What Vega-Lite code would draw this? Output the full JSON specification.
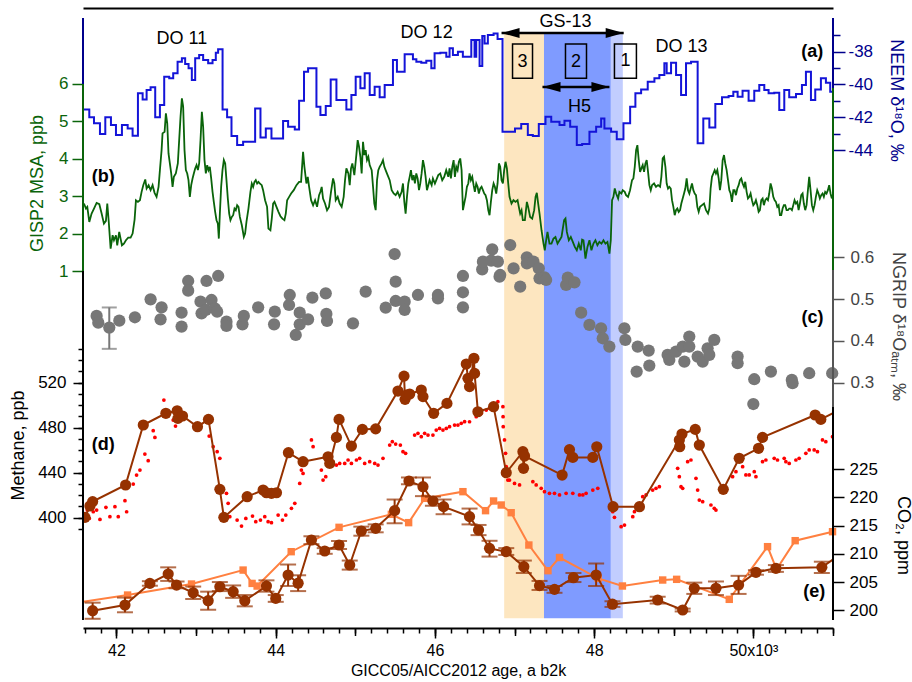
{
"$schema":"https://vega.github.io/schema/vega-lite/v6.json",
"width":750,"height":620,"autosize":"none",
"padding":{"left":83,"top":8,"right":79,"bottom":54},
"background":"white",
"config":{"view":{"stroke":null},"axis":{"labelFont":"Liberation Sans","titleFont":"Liberation Sans","titleFontWeight":"normal","grid":false,"domain":false,"labelOverlap":false,"zindex":1},"text":{"font":"Liberation Sans"}},
"resolve":{"scale":{"x":"independent","y":"independent"},"axis":{"x":"independent","y":"independent"}},
"datasets":{
"bands":[{"s":46870,"e":47370,"k":"a"},{"s":47370,"e":48210,"k":"b"},{"s":48210,"e":48360,"k":"c"}],
"neem":[{"t":41580,"v":-41.52},{"t":41659,"v":-42.00},{"t":41718,"v":-42.37},{"t":41793,"v":-43.02},{"t":41860,"v":-42.00},{"t":41931,"v":-42.48},{"t":41994,"v":-43.09},{"t":42069,"v":-42.48},{"t":42141,"v":-42.68},{"t":42203,"v":-43.13},{"t":42270,"v":-40.54},{"t":42329,"v":-40.91},{"t":42379,"v":-40.34},{"t":42429,"v":-40.17},{"t":42487,"v":-42.00},{"t":42546,"v":-41.25},{"t":42600,"v":-39.53},{"t":42663,"v":-39.62},{"t":42713,"v":-39.32},{"t":42768,"v":-38.61},{"t":42822,"v":-38.40},{"t":42863,"v":-38.75},{"t":42906,"v":-39.01},{"t":42947,"v":-39.73},{"t":42989,"v":-38.40},{"t":43039,"v":-38.20},{"t":43089,"v":-38.51},{"t":43152,"v":-38.71},{"t":43207,"v":-38.51},{"t":43248,"v":-38.06},{"t":43277,"v":-37.85},{"t":43333,"v":-41.52},{"t":43390,"v":-42.00},{"t":43445,"v":-43.15},{"t":43516,"v":-43.70},{"t":43591,"v":-43.49},{"t":43742,"v":-41.46},{"t":43809,"v":-43.23},{"t":43876,"v":-42.68},{"t":43947,"v":-43.29},{"t":44093,"v":-42.23},{"t":44156,"v":-42.58},{"t":44240,"v":-42.74},{"t":44294,"v":-40.99},{"t":44356,"v":-39.22},{"t":44407,"v":-39.01},{"t":44512,"v":-41.36},{"t":44562,"v":-41.86},{"t":44629,"v":-41.32},{"t":44691,"v":-39.69},{"t":44763,"v":-40.95},{"t":44888,"v":-41.52},{"t":44951,"v":-40.64},{"t":45005,"v":-39.53},{"t":45064,"v":-40.23},{"t":45118,"v":-39.32},{"t":45181,"v":-40.64},{"t":45243,"v":-40.14},{"t":45306,"v":-40.78},{"t":45369,"v":-40.03},{"t":45473,"v":-38.51},{"t":45523,"v":-39.22},{"t":45620,"v":-38.16},{"t":45724,"v":-38.46},{"t":45767,"v":-38.61},{"t":45829,"v":-38.67},{"t":45892,"v":-38.55},{"t":45955,"v":-39.01},{"t":45996,"v":-38.10},{"t":46068,"v":-38.06},{"t":46143,"v":-38.31},{"t":46184,"v":-37.79},{"t":46226,"v":-38.20},{"t":46289,"v":-38.00},{"t":46351,"v":-38.31},{"t":46457,"v":-37.29},{"t":46498,"v":-38.31},{"t":46519,"v":-37.29},{"t":46561,"v":-38.87},{"t":46595,"v":-37.04},{"t":46624,"v":-37.49},{"t":46665,"v":-36.98},{"t":46737,"v":-36.89},{"t":46787,"v":-37.22},{"t":46849,"v":-42.88},{"t":47006,"v":-42.68},{"t":47084,"v":-42.41},{"t":47167,"v":-43.09},{"t":47230,"v":-43.15},{"t":47305,"v":-42.41},{"t":47389,"v":-41.97},{"t":47461,"v":-42.27},{"t":47565,"v":-42.48},{"t":47627,"v":-42.21},{"t":47699,"v":-42.58},{"t":47782,"v":-43.70},{"t":47849,"v":-43.63},{"t":47941,"v":-42.88},{"t":48025,"v":-42.58},{"t":48088,"v":-42.07},{"t":48129,"v":-42.68},{"t":48213,"v":-42.88},{"t":48284,"v":-43.35},{"t":48368,"v":-42.37},{"t":48452,"v":-41.36},{"t":48518,"v":-40.54},{"t":48590,"v":-40.30},{"t":48673,"v":-39.83},{"t":48757,"v":-39.62},{"t":48819,"v":-39.42},{"t":48882,"v":-38.71},{"t":48911,"v":-39.32},{"t":48966,"v":-38.67},{"t":49029,"v":-39.42},{"t":49092,"v":-40.64},{"t":49154,"v":-38.71},{"t":49217,"v":-38.61},{"t":49300,"v":-43.59},{"t":49371,"v":-42.07},{"t":49447,"v":-42.62},{"t":49522,"v":-41.19},{"t":49606,"v":-40.78},{"t":49689,"v":-40.70},{"t":49748,"v":-40.44},{"t":49802,"v":-40.75},{"t":49864,"v":-40.38},{"t":49940,"v":-40.99},{"t":50011,"v":-40.38},{"t":50074,"v":-40.03},{"t":50137,"v":-40.34},{"t":50191,"v":-40.54},{"t":50262,"v":-40.50},{"t":50325,"v":-41.56},{"t":50388,"v":-40.34},{"t":50450,"v":-40.78},{"t":50535,"v":-40.58},{"t":50610,"v":-40.03},{"t":50660,"v":-39.22},{"t":50723,"v":-40.95},{"t":50777,"v":-40.30},{"t":50848,"v":-39.62},{"t":50911,"v":-39.89},{"t":50965,"v":-40.44},{"t":51000,"v":-40.44}],
"msa":[{"t":41592,"v":2.804},{"t":41617,"v":2.670},{"t":41634,"v":2.715},{"t":41659,"v":2.313},{"t":41688,"v":2.536},{"t":41718,"v":2.670},{"t":41751,"v":2.822},{"t":41785,"v":2.786},{"t":41814,"v":2.536},{"t":41843,"v":2.268},{"t":41868,"v":2.340},{"t":41885,"v":2.804},{"t":41902,"v":2.358},{"t":41927,"v":1.599},{"t":41952,"v":1.956},{"t":41969,"v":1.822},{"t":41994,"v":1.956},{"t":42010,"v":1.688},{"t":42035,"v":2.045},{"t":42052,"v":1.867},{"t":42069,"v":1.688},{"t":42094,"v":1.733},{"t":42119,"v":1.822},{"t":42148,"v":1.894},{"t":42178,"v":1.894},{"t":42203,"v":2.001},{"t":42228,"v":2.375},{"t":42245,"v":2.893},{"t":42270,"v":2.849},{"t":42295,"v":2.893},{"t":42316,"v":3.117},{"t":42337,"v":3.295},{"t":42362,"v":3.447},{"t":42379,"v":3.206},{"t":42404,"v":3.295},{"t":42429,"v":3.161},{"t":42454,"v":3.295},{"t":42479,"v":3.090},{"t":42504,"v":2.983},{"t":42529,"v":3.250},{"t":42546,"v":3.697},{"t":42567,"v":4.232},{"t":42579,"v":4.679},{"t":42605,"v":4.723},{"t":42621,"v":5.214},{"t":42638,"v":4.947},{"t":42654,"v":4.143},{"t":42671,"v":3.875},{"t":42688,"v":3.608},{"t":42705,"v":3.250},{"t":42721,"v":3.518},{"t":42746,"v":3.608},{"t":42771,"v":3.875},{"t":42788,"v":4.500},{"t":42805,"v":5.125},{"t":42822,"v":5.616},{"t":42838,"v":5.393},{"t":42855,"v":4.232},{"t":42872,"v":3.697},{"t":42889,"v":3.608},{"t":42905,"v":3.429},{"t":42922,"v":2.983},{"t":42939,"v":3.295},{"t":42956,"v":3.474},{"t":42972,"v":3.608},{"t":42989,"v":3.742},{"t":43006,"v":3.831},{"t":43023,"v":3.697},{"t":43039,"v":3.875},{"t":43056,"v":4.500},{"t":43073,"v":5.259},{"t":43089,"v":4.857},{"t":43106,"v":3.965},{"t":43123,"v":3.608},{"t":43140,"v":3.831},{"t":43156,"v":3.697},{"t":43173,"v":3.786},{"t":43190,"v":3.474},{"t":43207,"v":3.117},{"t":43223,"v":2.849},{"t":43240,"v":2.581},{"t":43257,"v":2.358},{"t":43274,"v":2.268},{"t":43286,"v":1.867},{"t":43299,"v":2.536},{"t":43315,"v":3.250},{"t":43332,"v":3.697},{"t":43349,"v":3.965},{"t":43366,"v":3.875},{"t":43382,"v":3.429},{"t":43399,"v":2.938},{"t":43416,"v":2.536},{"t":43432,"v":2.358},{"t":43449,"v":2.447},{"t":43466,"v":2.492},{"t":43483,"v":2.670},{"t":43499,"v":2.626},{"t":43516,"v":2.759},{"t":43533,"v":2.715},{"t":43550,"v":2.447},{"t":43575,"v":2.224},{"t":43600,"v":1.911},{"t":43616,"v":2.001},{"t":43633,"v":2.313},{"t":43658,"v":2.670},{"t":43683,"v":3.117},{"t":43700,"v":3.340},{"t":43717,"v":3.250},{"t":43734,"v":3.384},{"t":43750,"v":3.429},{"t":43767,"v":3.340},{"t":43784,"v":3.384},{"t":43800,"v":3.340},{"t":43825,"v":3.295},{"t":43842,"v":3.161},{"t":43867,"v":2.893},{"t":43892,"v":2.715},{"t":43909,"v":2.135},{"t":43934,"v":2.090},{"t":43951,"v":2.402},{"t":43968,"v":2.804},{"t":43985,"v":2.849},{"t":44010,"v":2.715},{"t":44035,"v":2.581},{"t":44060,"v":2.465},{"t":44085,"v":2.402},{"t":44110,"v":2.358},{"t":44127,"v":2.536},{"t":44144,"v":2.893},{"t":44169,"v":2.983},{"t":44194,"v":3.072},{"t":44227,"v":3.161},{"t":44261,"v":3.295},{"t":44294,"v":3.384},{"t":44319,"v":3.384},{"t":44344,"v":4.188},{"t":44361,"v":3.786},{"t":44386,"v":3.340},{"t":44403,"v":3.518},{"t":44420,"v":3.250},{"t":44445,"v":2.893},{"t":44470,"v":2.759},{"t":44495,"v":2.893},{"t":44520,"v":2.715},{"t":44545,"v":3.027},{"t":44562,"v":3.117},{"t":44578,"v":3.250},{"t":44595,"v":2.938},{"t":44620,"v":2.804},{"t":44645,"v":2.626},{"t":44670,"v":2.715},{"t":44695,"v":3.117},{"t":44721,"v":3.474},{"t":44737,"v":3.340},{"t":44754,"v":2.893},{"t":44779,"v":2.983},{"t":44804,"v":2.804},{"t":44829,"v":2.715},{"t":44854,"v":2.983},{"t":44871,"v":3.429},{"t":44888,"v":3.742},{"t":44913,"v":3.608},{"t":44930,"v":3.295},{"t":44946,"v":3.742},{"t":44963,"v":3.876},{"t":44988,"v":3.563},{"t":45013,"v":4.099},{"t":45030,"v":4.500},{"t":45047,"v":4.322},{"t":45064,"v":4.054},{"t":45080,"v":3.608},{"t":45097,"v":4.456},{"t":45114,"v":4.099},{"t":45130,"v":4.232},{"t":45147,"v":3.965},{"t":45164,"v":4.054},{"t":45181,"v":3.831},{"t":45206,"v":3.697},{"t":45223,"v":3.250},{"t":45239,"v":2.804},{"t":45256,"v":2.626},{"t":45273,"v":3.429},{"t":45289,"v":3.697},{"t":45306,"v":3.786},{"t":45331,"v":3.876},{"t":45348,"v":3.965},{"t":45365,"v":3.786},{"t":45381,"v":3.697},{"t":45406,"v":3.563},{"t":45432,"v":3.429},{"t":45457,"v":3.161},{"t":45482,"v":3.072},{"t":45507,"v":3.027},{"t":45532,"v":3.117},{"t":45557,"v":2.983},{"t":45582,"v":3.117},{"t":45599,"v":3.340},{"t":45616,"v":2.849},{"t":45632,"v":2.536},{"t":45649,"v":2.983},{"t":45666,"v":3.340},{"t":45683,"v":3.518},{"t":45699,"v":3.697},{"t":45716,"v":3.429},{"t":45733,"v":3.563},{"t":45749,"v":3.340},{"t":45766,"v":3.608},{"t":45783,"v":3.474},{"t":45800,"v":3.161},{"t":45816,"v":3.340},{"t":45833,"v":3.608},{"t":45850,"v":3.965},{"t":45867,"v":3.786},{"t":45883,"v":3.518},{"t":45900,"v":3.161},{"t":45917,"v":3.295},{"t":45933,"v":3.429},{"t":45959,"v":3.295},{"t":45975,"v":3.474},{"t":46000,"v":3.340},{"t":46017,"v":3.429},{"t":46042,"v":3.563},{"t":46067,"v":3.608},{"t":46092,"v":3.429},{"t":46117,"v":3.518},{"t":46142,"v":3.697},{"t":46168,"v":3.518},{"t":46184,"v":3.742},{"t":46201,"v":3.474},{"t":46218,"v":3.786},{"t":46235,"v":3.965},{"t":46251,"v":3.518},{"t":46268,"v":3.786},{"t":46285,"v":3.697},{"t":46301,"v":3.920},{"t":46318,"v":4.009},{"t":46335,"v":3.697},{"t":46352,"v":2.626},{"t":46368,"v":2.804},{"t":46385,"v":2.983},{"t":46402,"v":3.250},{"t":46419,"v":3.340},{"t":46435,"v":3.608},{"t":46452,"v":3.429},{"t":46469,"v":3.518},{"t":46486,"v":3.295},{"t":46502,"v":3.117},{"t":46519,"v":3.340},{"t":46536,"v":3.250},{"t":46552,"v":3.072},{"t":46569,"v":3.206},{"t":46586,"v":3.250},{"t":46603,"v":3.161},{"t":46620,"v":3.072},{"t":46636,"v":3.027},{"t":46653,"v":2.893},{"t":46670,"v":2.626},{"t":46686,"v":2.492},{"t":46703,"v":2.849},{"t":46720,"v":3.161},{"t":46737,"v":3.340},{"t":46753,"v":3.250},{"t":46770,"v":3.072},{"t":46787,"v":3.340},{"t":46804,"v":3.876},{"t":46820,"v":3.786},{"t":46837,"v":3.429},{"t":46854,"v":3.340},{"t":46870,"v":3.697},{"t":46887,"v":3.920},{"t":46904,"v":3.742},{"t":46921,"v":3.340},{"t":46937,"v":2.983},{"t":46962,"v":2.804},{"t":46987,"v":2.893},{"t":47012,"v":2.849},{"t":47038,"v":2.893},{"t":47054,"v":2.715},{"t":47071,"v":2.536},{"t":47088,"v":2.626},{"t":47104,"v":2.358},{"t":47130,"v":2.358},{"t":47155,"v":2.849},{"t":47171,"v":2.715},{"t":47196,"v":2.447},{"t":47222,"v":2.402},{"t":47247,"v":2.626},{"t":47264,"v":2.983},{"t":47280,"v":3.090},{"t":47297,"v":2.804},{"t":47314,"v":2.536},{"t":47339,"v":2.090},{"t":47364,"v":1.733},{"t":47380,"v":1.554},{"t":47397,"v":1.822},{"t":47414,"v":2.045},{"t":47439,"v":1.733},{"t":47464,"v":1.733},{"t":47489,"v":1.867},{"t":47514,"v":1.911},{"t":47540,"v":1.733},{"t":47565,"v":1.822},{"t":47590,"v":1.911},{"t":47623,"v":2.358},{"t":47640,"v":2.402},{"t":47657,"v":2.045},{"t":47682,"v":1.822},{"t":47707,"v":1.911},{"t":47732,"v":1.778},{"t":47757,"v":1.644},{"t":47782,"v":1.554},{"t":47807,"v":1.733},{"t":47832,"v":1.554},{"t":47849,"v":1.840},{"t":47866,"v":1.822},{"t":47891,"v":1.331},{"t":47916,"v":1.644},{"t":47941,"v":1.822},{"t":47966,"v":1.554},{"t":47991,"v":1.733},{"t":48016,"v":1.822},{"t":48041,"v":1.688},{"t":48066,"v":1.778},{"t":48092,"v":1.733},{"t":48117,"v":1.822},{"t":48142,"v":1.733},{"t":48167,"v":1.778},{"t":48192,"v":1.465},{"t":48209,"v":1.822},{"t":48225,"v":2.894},{"t":48242,"v":2.983},{"t":48259,"v":3.206},{"t":48276,"v":3.072},{"t":48301,"v":2.938},{"t":48317,"v":3.117},{"t":48342,"v":3.072},{"t":48359,"v":3.161},{"t":48384,"v":3.117},{"t":48401,"v":3.028},{"t":48426,"v":2.983},{"t":48451,"v":3.161},{"t":48476,"v":3.429},{"t":48493,"v":3.474},{"t":48510,"v":3.786},{"t":48527,"v":4.233},{"t":48543,"v":4.366},{"t":48560,"v":3.965},{"t":48577,"v":3.652},{"t":48593,"v":3.742},{"t":48610,"v":3.831},{"t":48627,"v":3.652},{"t":48644,"v":3.875},{"t":48660,"v":3.965},{"t":48677,"v":3.652},{"t":48694,"v":3.295},{"t":48711,"v":3.161},{"t":48727,"v":3.295},{"t":48752,"v":3.340},{"t":48777,"v":3.251},{"t":48803,"v":3.295},{"t":48828,"v":3.251},{"t":48844,"v":3.518},{"t":48861,"v":4.010},{"t":48878,"v":4.054},{"t":48895,"v":3.786},{"t":48911,"v":3.340},{"t":48928,"v":3.206},{"t":48945,"v":3.251},{"t":48962,"v":3.206},{"t":48978,"v":2.894},{"t":48995,"v":2.715},{"t":49012,"v":2.492},{"t":49028,"v":2.626},{"t":49045,"v":2.670},{"t":49062,"v":2.581},{"t":49079,"v":2.626},{"t":49095,"v":2.804},{"t":49112,"v":2.938},{"t":49129,"v":3.072},{"t":49145,"v":3.206},{"t":49162,"v":3.474},{"t":49179,"v":3.161},{"t":49196,"v":3.072},{"t":49212,"v":3.206},{"t":49229,"v":3.340},{"t":49246,"v":3.161},{"t":49263,"v":3.072},{"t":49279,"v":3.028},{"t":49296,"v":2.715},{"t":49313,"v":2.581},{"t":49330,"v":2.715},{"t":49355,"v":2.760},{"t":49380,"v":2.804},{"t":49405,"v":2.626},{"t":49430,"v":2.536},{"t":49447,"v":2.670},{"t":49463,"v":3.206},{"t":49480,"v":3.518},{"t":49497,"v":3.608},{"t":49514,"v":3.697},{"t":49530,"v":3.608},{"t":49547,"v":3.697},{"t":49564,"v":3.474},{"t":49580,"v":3.161},{"t":49597,"v":3.429},{"t":49614,"v":3.965},{"t":49631,"v":4.099},{"t":49647,"v":3.875},{"t":49664,"v":3.697},{"t":49681,"v":3.429},{"t":49698,"v":3.161},{"t":49714,"v":3.072},{"t":49731,"v":2.849},{"t":49748,"v":3.161},{"t":49764,"v":3.161},{"t":49781,"v":3.028},{"t":49798,"v":3.206},{"t":49815,"v":3.295},{"t":49831,"v":3.429},{"t":49848,"v":3.474},{"t":49865,"v":3.340},{"t":49882,"v":3.251},{"t":49898,"v":3.385},{"t":49915,"v":3.117},{"t":49932,"v":2.938},{"t":49949,"v":2.983},{"t":49965,"v":3.072},{"t":49982,"v":2.894},{"t":49999,"v":2.760},{"t":50015,"v":2.804},{"t":50032,"v":2.894},{"t":50049,"v":2.760},{"t":50066,"v":2.581},{"t":50082,"v":2.626},{"t":50099,"v":2.894},{"t":50116,"v":2.938},{"t":50132,"v":2.760},{"t":50149,"v":2.894},{"t":50166,"v":2.938},{"t":50183,"v":2.894},{"t":50199,"v":3.072},{"t":50216,"v":3.340},{"t":50233,"v":3.206},{"t":50250,"v":2.983},{"t":50266,"v":2.894},{"t":50283,"v":2.849},{"t":50300,"v":2.715},{"t":50317,"v":2.760},{"t":50333,"v":2.492},{"t":50350,"v":2.492},{"t":50367,"v":2.670},{"t":50383,"v":2.760},{"t":50400,"v":2.760},{"t":50417,"v":2.626},{"t":50434,"v":2.626},{"t":50450,"v":2.670},{"t":50467,"v":2.670},{"t":50484,"v":2.626},{"t":50501,"v":2.760},{"t":50517,"v":2.894},{"t":50534,"v":2.804},{"t":50551,"v":2.849},{"t":50568,"v":2.626},{"t":50584,"v":2.804},{"t":50601,"v":3.028},{"t":50618,"v":3.072},{"t":50634,"v":2.804},{"t":50651,"v":2.626},{"t":50668,"v":2.760},{"t":50685,"v":3.161},{"t":50701,"v":3.518},{"t":50718,"v":3.161},{"t":50735,"v":2.760},{"t":50752,"v":2.626},{"t":50768,"v":2.760},{"t":50785,"v":2.983},{"t":50802,"v":3.161},{"t":50818,"v":3.072},{"t":50835,"v":2.938},{"t":50852,"v":3.028},{"t":50869,"v":3.072},{"t":50885,"v":2.983},{"t":50902,"v":3.117},{"t":50919,"v":3.072},{"t":50936,"v":3.161},{"t":50952,"v":3.295},{"t":50969,"v":3.072},{"t":50986,"v":2.938}],
"ngrip":[{"t":41751,"v":0.4597},{"t":41772,"v":0.4437},{"t":41910,"v":0.4318},{"t":42036,"v":0.4485},{"t":42232,"v":0.4565},{"t":42429,"v":0.4995},{"t":42554,"v":0.4517},{"t":42567,"v":0.4804},{"t":42818,"v":0.4676},{"t":42818,"v":0.4342},{"t":42901,"v":0.5434},{"t":42901,"v":0.5202},{"t":43056,"v":0.4939},{"t":43069,"v":0.4660},{"t":43123,"v":0.4740},{"t":43131,"v":0.5434},{"t":43194,"v":0.4979},{"t":43236,"v":0.4780},{"t":43265,"v":0.4700},{"t":43278,"v":0.5553},{"t":43382,"v":0.4461},{"t":43382,"v":0.4358},{"t":43583,"v":0.4397},{"t":43600,"v":0.4597},{"t":43780,"v":0.4804},{"t":43980,"v":0.4397},{"t":43989,"v":0.4700},{"t":44168,"v":0.4860},{"t":44177,"v":0.5099},{"t":44252,"v":0.4142},{"t":44302,"v":0.4676},{"t":44302,"v":0.4397},{"t":44407,"v":0.4517},{"t":44461,"v":0.5035},{"t":44629,"v":0.5139},{"t":44637,"v":0.4645},{"t":44645,"v":0.4477},{"t":44971,"v":0.4421},{"t":45130,"v":0.5179},{"t":45382,"v":0.4796},{"t":45494,"v":0.6079},{"t":45507,"v":0.5418},{"t":45507,"v":0.4955},{"t":45620,"v":0.4939},{"t":45620,"v":0.4740},{"t":45787,"v":0.5099},{"t":46038,"v":0.5099},{"t":46038,"v":0.5019},{"t":46352,"v":0.5553},{"t":46352,"v":0.5163},{"t":46352,"v":0.4804},{"t":46594,"v":0.5713},{"t":46603,"v":0.5896},{"t":46707,"v":0.5920},{"t":46720,"v":0.6191},{"t":46791,"v":0.5896},{"t":46812,"v":0.5537},{"t":46820,"v":0.5577},{"t":46946,"v":0.6294},{"t":46988,"v":0.5736},{"t":47071,"v":0.5298},{"t":47155,"v":0.6000},{"t":47155,"v":0.5856},{"t":47238,"v":0.5896},{"t":47305,"v":0.5736},{"t":47314,"v":0.5497},{"t":47376,"v":0.5521},{"t":47397,"v":0.5458},{"t":47648,"v":0.5338},{"t":47669,"v":0.5513},{"t":47753,"v":0.5402},{"t":47837,"v":0.4676},{"t":47941,"v":0.4382},{"t":48087,"v":0.4302},{"t":48108,"v":0.4063},{"t":48191,"v":0.3864},{"t":48380,"v":0.4302},{"t":48392,"v":0.4024},{"t":48534,"v":0.3267},{"t":48547,"v":0.3864},{"t":48685,"v":0.3769},{"t":48693,"v":0.3410},{"t":48923,"v":0.3665},{"t":48944,"v":0.3545},{"t":49028,"v":0.3745},{"t":49112,"v":0.3864},{"t":49133,"v":0.3506},{"t":49195,"v":0.4103},{"t":49195,"v":0.3864},{"t":49300,"v":0.3625},{"t":49363,"v":0.3506},{"t":49425,"v":0.3824},{"t":49446,"v":0.3665},{"t":49509,"v":0.4024},{"t":49802,"v":0.3625},{"t":49802,"v":0.3466},{"t":49999,"v":0.249},{"t":50011,"v":0.3083},{"t":50220,"v":0.3267},{"t":50483,"v":0.3067},{"t":50492,"v":0.2988},{"t":50701,"v":0.3227},{"t":50990,"v":0.3227}],
"ngriperr":[{"t":41910,"lo":0.381,"hi":0.480}],
"ch4":[{"t":41605,"v":400.3},{"t":41667,"v":410.4},{"t":41701,"v":414.3},{"t":42115,"v":429.1},{"t":42337,"v":482.4},{"t":42621,"v":492.8},{"t":42763,"v":495.1},{"t":42772,"v":488.3},{"t":42830,"v":490.4},{"t":43018,"v":480.9},{"t":43156,"v":487.4},{"t":43299,"v":425.2},{"t":43349,"v":400.3},{"t":43642,"v":418.7},{"t":43842,"v":424.6},{"t":43884,"v":422.2},{"t":43947,"v":421.6},{"t":44010,"v":422.2},{"t":44160,"v":457.8},{"t":44344,"v":449.8},{"t":44658,"v":454.2},{"t":44679,"v":448.3},{"t":44763,"v":471.4},{"t":44796,"v":487.4},{"t":44951,"v":463.7},{"t":45089,"v":478.5},{"t":45256,"v":479.0},{"t":45536,"v":512.6},{"t":45612,"v":525.9},{"t":45625,"v":505.2},{"t":45641,"v":509.1},{"t":45683,"v":510.0},{"t":45829,"v":513.5},{"t":45850,"v":507.6},{"t":45984,"v":492.8},{"t":46151,"v":501.6},{"t":46394,"v":536.6},{"t":46415,"v":523.9},{"t":46435,"v":516.5},{"t":46490,"v":541.7},{"t":46498,"v":528.3},{"t":46540,"v":494.2},{"t":46737,"v":498.7},{"t":46896,"v":440.0},{"t":47105,"v":458.7},{"t":47113,"v":443.9},{"t":47126,"v":454.8},{"t":47598,"v":437.9},{"t":47690,"v":460.5},{"t":47732,"v":453.6},{"t":47983,"v":453.6},{"t":48033,"v":463.1},{"t":48238,"v":409.8},{"t":48569,"v":409.8},{"t":49070,"v":469.1},{"t":49075,"v":463.1},{"t":49103,"v":474.4},{"t":49270,"v":478.5},{"t":49321,"v":464.6},{"t":49622,"v":425.2},{"t":49822,"v":452.8},{"t":50065,"v":461.7},{"t":50115,"v":471.4},{"t":50776,"v":491.3},{"t":50847,"v":487.4},{"t":51100,"v":496.7}],
"ch4hr":[{"t":41634,"v":406.8},{"t":41659,"v":399.4},{"t":41709,"v":405.3},{"t":41751,"v":406.8},{"t":41793,"v":398.5},{"t":41868,"v":409.2},{"t":41918,"v":400.9},{"t":41981,"v":409.8},{"t":42023,"v":400.9},{"t":42107,"v":415.1},{"t":42128,"v":405.3},{"t":42211,"v":429.9},{"t":42253,"v":437.9},{"t":42295,"v":442.4},{"t":42357,"v":456.6},{"t":42399,"v":450.7},{"t":42462,"v":477.4},{"t":42483,"v":471.4},{"t":42596,"v":504.6},{"t":42621,"v":495.7},{"t":42713,"v":486.8},{"t":42742,"v":481.5},{"t":43165,"v":472.6},{"t":43215,"v":463.1},{"t":43265,"v":458.7},{"t":43299,"v":452.8},{"t":43382,"v":421.7},{"t":43403,"v":412.8},{"t":43424,"v":400.9},{"t":43516,"v":397.9},{"t":43571,"v":392.6},{"t":43625,"v":399.4},{"t":43709,"v":401.5},{"t":43750,"v":396.5},{"t":43809,"v":397.9},{"t":43863,"v":400.9},{"t":43905,"v":396.5},{"t":43947,"v":395.6},{"t":44031,"v":402.4},{"t":44085,"v":397.9},{"t":44127,"v":402.4},{"t":44198,"v":408.3},{"t":44240,"v":412.8},{"t":44302,"v":430.5},{"t":44323,"v":442.4},{"t":44344,"v":439.4},{"t":44449,"v":469.1},{"t":44470,"v":463.1},{"t":44574,"v":442.4},{"t":44595,"v":433.5},{"t":44629,"v":436.5},{"t":44721,"v":449.8},{"t":44763,"v":446.8},{"t":44804,"v":448.3},{"t":44867,"v":448.3},{"t":44909,"v":451.3},{"t":44951,"v":448.3},{"t":45014,"v":451.3},{"t":45055,"v":452.8},{"t":45118,"v":448.3},{"t":45181,"v":449.8},{"t":45244,"v":448.3},{"t":45285,"v":446.8},{"t":45348,"v":452.8},{"t":45432,"v":464.6},{"t":45465,"v":467.6},{"t":45507,"v":465.5},{"t":45566,"v":464.6},{"t":45599,"v":458.7},{"t":45632,"v":457.2},{"t":45745,"v":473.5},{"t":45787,"v":475.0},{"t":45829,"v":472.0},{"t":45871,"v":475.0},{"t":45913,"v":473.5},{"t":45975,"v":473.5},{"t":46017,"v":477.9},{"t":46059,"v":479.4},{"t":46101,"v":477.9},{"t":46143,"v":479.4},{"t":46184,"v":480.9},{"t":46247,"v":482.4},{"t":46289,"v":482.4},{"t":46331,"v":483.9},{"t":46373,"v":485.4},{"t":46435,"v":485.3},{"t":46519,"v":489.8},{"t":46582,"v":492.8},{"t":46645,"v":495.7},{"t":46686,"v":497.2},{"t":46749,"v":500.2},{"t":46791,"v":503.1},{"t":46854,"v":498.7},{"t":46856,"v":489.8},{"t":46858,"v":480.9},{"t":46874,"v":469.1},{"t":46887,"v":457.2},{"t":46896,"v":445.4},{"t":46916,"v":433.5},{"t":46937,"v":433.5},{"t":47000,"v":430.5},{"t":47063,"v":429.1},{"t":47230,"v":432.0},{"t":47272,"v":429.1},{"t":47335,"v":426.1},{"t":47376,"v":423.1},{"t":47439,"v":421.7},{"t":47502,"v":421.7},{"t":47565,"v":420.2},{"t":47648,"v":421.7},{"t":47732,"v":421.7},{"t":47816,"v":420.2},{"t":47858,"v":420.2},{"t":47899,"v":421.7},{"t":47983,"v":424.6},{"t":48046,"v":426.1},{"t":48234,"v":405.4},{"t":48255,"v":400.3},{"t":48339,"v":392.0},{"t":48381,"v":393.5},{"t":48485,"v":400.9},{"t":48506,"v":405.4},{"t":48610,"v":418.7},{"t":48652,"v":420.2},{"t":48735,"v":424.6},{"t":48777,"v":426.1},{"t":48819,"v":427.6},{"t":49049,"v":443.9},{"t":49070,"v":436.5},{"t":49091,"v":427.6},{"t":49112,"v":426.1},{"t":49174,"v":449.8},{"t":49216,"v":451.3},{"t":49279,"v":435.0},{"t":49300,"v":424.6},{"t":49321,"v":415.7},{"t":49363,"v":414.2},{"t":49467,"v":411.3},{"t":49509,"v":408.3},{"t":49530,"v":406.8},{"t":49739,"v":436.5},{"t":49781,"v":440.9},{"t":49865,"v":445.4},{"t":49906,"v":438.0},{"t":49948,"v":438.0},{"t":50011,"v":440.9},{"t":50032,"v":436.5},{"t":50115,"v":449.8},{"t":50157,"v":451.3},{"t":50262,"v":452.8},{"t":50303,"v":451.3},{"t":50387,"v":452.8},{"t":50408,"v":449.8},{"t":50450,"v":448.3},{"t":50534,"v":451.3},{"t":50575,"v":452.8},{"t":50659,"v":457.2},{"t":50701,"v":460.2},{"t":50764,"v":460.2},{"t":50805,"v":458.7},{"t":50868,"v":469.1},{"t":50910,"v":467.6},{"t":50994,"v":472.0}],
"co2a":[{"t":41701,"v":199.93,"lo":198.5,"hi":201.35},{"t":42107,"v":200.93,"lo":199.65,"hi":202.25},{"t":42420,"v":204.76,"lo":204.35,"hi":205.15},{"t":42650,"v":206.42,"lo":205.2,"hi":207.6},{"t":42755,"v":204.47,"lo":203.9,"hi":205.1},{"t":42964,"v":203.11,"lo":202.0,"hi":204.2},{"t":43152,"v":201.70,"lo":200.1,"hi":203.3},{"t":43299,"v":204.17,"lo":203.4,"hi":205.0},{"t":43466,"v":203.29,"lo":202.2,"hi":204.4},{"t":43612,"v":201.70,"lo":200.7,"hi":202.7},{"t":43884,"v":204.29,"lo":203.3,"hi":205.3},{"t":44001,"v":202.11,"lo":201.5,"hi":202.7},{"t":44156,"v":206.24,"lo":204.3,"hi":208.1},{"t":44282,"v":204.8,"lo":203.4,"hi":206.2},{"t":44449,"v":212.44,"lo":211.7,"hi":213.1},{"t":44616,"v":210.49,"lo":210.0,"hi":211.0},{"t":44796,"v":211.55,"lo":210.85,"hi":212.25},{"t":44930,"v":208.01,"lo":207.2,"hi":208.8},{"t":45076,"v":214.03,"lo":213.2,"hi":214.8},{"t":45256,"v":214.50,"lo":213.8,"hi":215.2},{"t":45494,"v":217.63,"lo":215.4,"hi":219.6},{"t":45674,"v":222.88,"lo":222.3,"hi":223.5},{"t":45850,"v":221.87,"lo":220.2,"hi":223.5},{"t":45975,"v":219.34,"lo":218.5,"hi":220.1},{"t":46109,"v":218.34,"lo":217.0,"hi":219.6},{"t":46435,"v":216.57,"lo":215.2,"hi":218.0},{"t":46548,"v":214.21,"lo":213.3,"hi":215.1},{"t":46686,"v":210.96,"lo":209.5,"hi":212.3},{"t":46896,"v":210.37,"lo":209.8,"hi":211.0},{"t":47117,"v":207.72,"lo":206.6,"hi":208.8},{"t":47314,"v":204.36,"lo":203.6,"hi":205.2},{"t":47502,"v":203.71,"lo":203.1,"hi":204.3},{"t":47740,"v":205.77,"lo":205.0,"hi":206.6},{"t":48025,"v":206.24,"lo":204.3,"hi":208.3},{"t":48230,"v":201.08,"lo":200.6,"hi":201.6},{"t":48798,"v":201.82,"lo":201.2,"hi":202.4},{"t":49112,"v":200.05,"lo":199.8,"hi":200.3},{"t":49258,"v":203.89,"lo":202.9,"hi":204.9},{"t":49530,"v":203.89,"lo":202.7,"hi":205.1},{"t":49814,"v":204.48,"lo":202.9,"hi":206.1},{"t":50032,"v":206.72,"lo":206.3,"hi":207.1},{"t":50283,"v":207.43,"lo":206.8,"hi":208.0},{"t":50860,"v":207.60,"lo":206.6,"hi":208.6},{"t":51120,"v":210.2,"lo":210.2,"hi":210.2}],
"co2b":[{"t":41580,"v":201.52},{"t":42140,"v":202.70},{"t":42943,"v":204.65},{"t":43591,"v":207.12},{"t":43704,"v":204.76},{"t":43767,"v":204.29},{"t":44195,"v":210.37},{"t":44796,"v":214.68},{"t":45453,"v":216.98},{"t":45670,"v":215.51},{"t":45871,"v":219.81},{"t":46352,"v":220.99},{"t":46636,"v":217.63},{"t":46737,"v":219.34},{"t":46833,"v":218.63},{"t":46958,"v":217.27},{"t":47180,"v":211.55},{"t":47420,"v":207.01},{"t":47565,"v":209.34},{"t":48050,"v":205.65},{"t":48355,"v":204.30},{"t":48861,"v":205.36},{"t":49036,"v":205.48},{"t":49697,"v":201.94},{"t":50178,"v":211.26},{"t":50291,"v":207.25},{"t":50525,"v":212.32},{"t":50994,"v":213.91}],
"boxes":[{"s":46975,"e":47226,"k":"3"},{"s":47640,"e":47904,"k":"2"},{"s":48255,"e":48531,"k":"1"}],
"arrows":[{"s":46837,"e":48371,"v":-36.86},{"s":47351,"e":48192,"v":-40.155}],
"heads":[{"t":46837,"v":-36.86,"d":"L"},{"t":48371,"v":-36.86,"d":"R"},{"t":47351,"v":-40.155,"d":"L"},{"t":48192,"v":-40.155,"d":"R"}],
"labA":[{"t":42822,"v":-37.22,"txt":"DO 11"},{"t":45896,"v":-36.86,"txt":"DO 12"},{"t":49096,"v":-37.71,"txt":"DO 13"},{"t":47640,"v":-36.17,"txt":"GS-13"},{"t":47816,"v":-41.36,"txt":"H5"},{"t":47100,"v":-38.61,"txt":"3"},{"t":47772,"v":-38.61,"txt":"2"},{"t":48393,"v":-38.55,"txt":"1"}],
"labA2":[{"t":50739,"v":-38.02,"txt":"(a)"}],
"labB":[{"t":41834,"v":3.517,"txt":"(b)"}],
"labC":[{"t":50743,"v":0.454,"txt":"(c)"}],
"labD":[{"t":41834,"v":464.6,"txt":"(d)"}],
"labE":[{"t":50764,"v":203.3,"txt":"(e)"}]
},
"layer":[
{"data":{"name":"bands"},"mark":{"type":"rect"},
 "encoding":{"x":{"field":"s","type":"quantitative","scale":{"domain":[41580,51000],"nice":false,"zero":false},
   "axis":{"orient":"bottom","values":[42000,44000,46000,48000,50000],"labelExpr":"datum.value == 50000 ? '50x10³' : format(datum.value/1000,'d')","tickSize":10,"tickWidth":1.5,"tickColor":"black","labelFontSize":16,"labelColor":"black","labelPadding":4,"labelFlush":false,"domain":true,"domainColor":"black","domainWidth":2,"title":"GICC05/AICC2012 age, a b2k","titleFontSize":16,"titleColor":"black","titleY":42,"titleBaseline":"middle"}},
  "x2":{"field":"e"},
  "y":{"datum":-36.86,"type":"quantitative","scale":{"domain":[-73.18,-35.33],"nice":false,"zero":false},"axis":null},
  "y2":{"datum":-72.59},
  "color":{"field":"k","type":"nominal","scale":{"domain":["a","b","c"],"range":["#fde6c0","#7f9bff","#c2cdfe"]},"legend":null}}},
{"data":{"name":"ch4hr"},"mark":{"type":"circle","size":14,"color":"#ff0000","opacity":1,"clip":true},
 "encoding":{"x":{"field":"t","type":"quantitative","scale":{"domain":[41580,51000],"nice":false,"zero":false},
   "axis":{"orient":"bottom","values":[42000,43000,44000,45000,46000,47000,48000,49000,50000,51000],"labels":false,"tickSize":7.5,"tickWidth":1.5,"tickColor":"black","title":null}},
  "y":{"field":"v","type":"quantitative","scale":{"domain":[301.96,853.1],"nice":false,"zero":false},
   "axis":{"orient":"left","values":[390,400,410,420,430,440,450,460,470,480,490,500,510,520,530,540,550],"labels":false,"tickSize":5,"tickWidth":1.5,"tickColor":"black","title":null}}}},
{"data":{"name":"ch4"},"mark":{"type":"line","color":"#963200","strokeWidth":2,"clip":true},
 "encoding":{"x":{"field":"t","type":"quantitative","scale":{"domain":[41580,51000],"nice":false,"zero":false},
   "axis":{"orient":"bottom","values":[41600,41800,42000,42200,42400,42600,42800,43000,43200,43400,43600,43800,44000,44200,44400,44600,44800,45000,45200,45400,45600,45800,46000,46200,46400,46600,46800,47000,47200,47400,47600,47800,48000,48200,48400,48600,48800,49000,49200,49400,49600,49800,50000,50200,50400,50600,50800,51000],"labels":false,"tickSize":5,"tickWidth":1.5,"tickColor":"black","title":null}},
  "y":{"field":"v","type":"quantitative","scale":{"domain":[301.96,853.1],"nice":false,"zero":false},
   "axis":{"orient":"left","values":[400,440,480,520],"tickSize":10,"tickWidth":1.5,"tickColor":"black","labelFontSize":17,"labelColor":"black","labelPadding":7,"title":"Methane, ppb","titleFontSize":18,"titleColor":"black","titleAngle":-90,"titleX":-65,"titleY":437,"titleAlign":"center","titleBaseline":"middle"}}}},
{"data":{"name":"ch4"},"mark":{"type":"circle","size":125,"color":"#963200","opacity":1,"clip":true},
 "encoding":{"x":{"field":"t","type":"quantitative","scale":{"domain":[41580,51000],"nice":false,"zero":false},"axis":null},
  "y":{"field":"v","type":"quantitative","scale":{"domain":[301.96,853.1],"nice":false,"zero":false},"axis":null}}},
{"data":{"name":"co2b"},"mark":{"type":"line","color":"#ff8040","strokeWidth":2,"clip":true},
 "encoding":{"x":{"field":"t","type":"quantitative","scale":{"domain":[41580,51000],"nice":false,"zero":false},
   "axis":{"orient":"top","ticks":false,"labels":false,"domain":true,"domainColor":"black","domainWidth":2,"title":null}},
  "y":{"field":"v","type":"quantitative","scale":{"domain":[196.87,306.56],"nice":false,"zero":false},
   "axis":{"orient":"right","values":[200,205,210,215,220,225],"tickSize":11,"tickWidth":1.5,"tickColor":"black","labelFontSize":17,"labelColor":"black","labelPadding":5,"title":"CO₂, ppm","titleFontSize":18,"titleColor":"black","titleAngle":90,"titleX":69,"titleY":527,"titleAlign":"center","titleBaseline":"middle"}}}},
{"data":{"name":"co2b"},"transform":[{"filter":"datum.t > 41600"}],"mark":{"type":"square","size":55,"color":"#ff8040","opacity":1},
 "encoding":{"x":{"field":"t","type":"quantitative","scale":{"domain":[41580,51000],"nice":false,"zero":false},"axis":null},
  "y":{"field":"v","type":"quantitative","scale":{"domain":[196.87,306.56],"nice":false,"zero":false},"axis":null}}},
{"data":{"name":"co2a"},"transform":[{"filter":"datum.t < 51000"}],"mark":{"type":"errorbar","ticks":true,"size":16,"thickness":2,"color":"#963200"},
 "encoding":{"x":{"field":"t","type":"quantitative","scale":{"domain":[41580,51000],"nice":false,"zero":false},"axis":null},
  "y":{"field":"lo","type":"quantitative","scale":{"domain":[196.87,306.56],"nice":false,"zero":false},"axis":null},
  "y2":{"field":"hi"}}},
{"data":{"name":"co2a"},"mark":{"type":"line","color":"#963200","strokeWidth":2,"clip":true},
 "encoding":{"x":{"field":"t","type":"quantitative","scale":{"domain":[41580,51000],"nice":false,"zero":false},"axis":null},
  "y":{"field":"v","type":"quantitative","scale":{"domain":[196.87,306.56],"nice":false,"zero":false},"axis":null}}},
{"data":{"name":"co2a"},"mark":{"type":"circle","size":125,"color":"#963200","opacity":1,"clip":true},
 "encoding":{"x":{"field":"t","type":"quantitative","scale":{"domain":[41580,51000],"nice":false,"zero":false},"axis":null},
  "y":{"field":"v","type":"quantitative","scale":{"domain":[196.87,306.56],"nice":false,"zero":false},"axis":null}}},
{"data":{"name":"ngriperr"},"mark":{"type":"errorbar","ticks":true,"size":15,"thickness":2,"color":"#777777"},
 "encoding":{"x":{"field":"t","type":"quantitative","scale":{"domain":[41580,51000],"nice":false,"zero":false},"axis":null},
  "y":{"field":"lo","type":"quantitative","scale":{"domain":[-0.2868,1.1964],"nice":false,"zero":false},"axis":null},
  "y2":{"field":"hi"}}},
{"data":{"name":"ngrip"},"mark":{"type":"circle","size":150,"color":"#777777","opacity":1},
 "encoding":{"x":{"field":"t","type":"quantitative","scale":{"domain":[41580,51000],"nice":false,"zero":false},"axis":null},
  "y":{"field":"v","type":"quantitative","scale":{"domain":[-0.2868,1.1964],"nice":false,"zero":false},
   "axis":{"orient":"right","values":[0.3,0.4,0.5,0.6],"format":".1f","tickSize":11,"tickWidth":1.5,"tickColor":"#555555","labelFontSize":17,"labelColor":"#444444","labelPadding":6,"title":"NGRIP δ¹⁸Oₐₜₘ, ‰","titleFontSize":18,"titleColor":"#444444","titleAngle":90,"titleX":64,"titleY":318,"titleAlign":"center","titleBaseline":"middle"}}}},
{"data":{"name":"msa"},"mark":{"type":"line","color":"#0a640a","strokeWidth":1.8,"clip":true},
 "encoding":{"x":{"field":"t","type":"quantitative","scale":{"domain":[41580,51000],"nice":false,"zero":false},"axis":null},
  "y":{"field":"v","type":"quantitative","scale":{"domain":[-8.545,8.032],"nice":false,"zero":false},
   "axis":{"orient":"left","values":[1,2,3,4,5,6],"tickSize":11,"tickWidth":1.5,"tickColor":"#0a640a","labelFontSize":17,"labelColor":"#0a640a","labelPadding":4,"title":"GISP2 MSA, ppb","titleFontSize":18,"titleColor":"#0a640a","titleAngle":-90,"titleX":-46,"titleY":175,"titleAlign":"center","titleBaseline":"middle"}}}},
{"data":{"name":"neem"},"mark":{"type":"line","color":"#1414d8","strokeWidth":2,"interpolate":"step-after","clip":true},
 "encoding":{"x":{"field":"t","type":"quantitative","scale":{"domain":[41580,51000],"nice":false,"zero":false},"axis":null},
  "y":{"field":"v","type":"quantitative","scale":{"domain":[-73.18,-35.33],"nice":false,"zero":false},
   "axis":{"orient":"right","values":[-44,-42,-40,-38],"labelExpr":"'-' + format(-datum.value,'d')","tickSize":12,"tickWidth":1.5,"tickColor":"#00008c","labelFontSize":17,"labelColor":"#00008c","labelPadding":3,"title":"NEEM δ¹⁸O, ‰","titleFontSize":18,"titleColor":"#00008c","titleAngle":90,"titleX":62,"titleY":92,"titleAlign":"center","titleBaseline":"middle"}}}},
{"data":{"name":"boxes"},"mark":{"type":"rect","stroke":"black","strokeWidth":1.5,"fill":"#eef1ff"},
 "encoding":{"x":{"field":"s","type":"quantitative","scale":{"domain":[41580,51000],"nice":false,"zero":false},"axis":null},
  "x2":{"field":"e"},
  "y":{"datum":-37.53,"type":"quantitative","scale":{"domain":[-73.18,-35.33],"nice":false,"zero":false},
   "axis":{"orient":"right","values":[-43,-41,-39,-37],"labels":false,"tickSize":7,"tickWidth":1.5,"tickColor":"#00008c","title":null}},
  "y2":{"datum":-39.62},
  "fillOpacity":{"field":"k","type":"nominal","scale":{"domain":["3","2","1"],"range":[0,0,1]},"legend":null}}},
{"data":{"name":"arrows"},"mark":{"type":"rule","color":"black","strokeWidth":2.5},
 "encoding":{"x":{"field":"s","type":"quantitative","scale":{"domain":[41580,51000],"nice":false,"zero":false},"axis":null},
  "x2":{"field":"e"},
  "y":{"field":"v","type":"quantitative","scale":{"domain":[-73.18,-35.33],"nice":false,"zero":false},"axis":null}}},
{"data":{"name":"heads"},"mark":{"type":"point","filled":true,"size":1296,"color":"black","opacity":1,"strokeWidth":0},
 "encoding":{"x":{"field":"t","type":"quantitative","scale":{"domain":[41580,51000],"nice":false,"zero":false},"axis":null},
  "y":{"field":"v","type":"quantitative","scale":{"domain":[-73.18,-35.33],"nice":false,"zero":false},"axis":null},
  "shape":{"field":"d","type":"nominal","scale":{"domain":["L","R"],"range":["M0,0L1,-0.28L1,0.28Z","M0,0L-1,-0.28L-1,0.28Z"]},"legend":null}}},
{"data":{"name":"labA"},"mark":{"type":"text","fontSize":18,"color":"black","align":"center","baseline":"middle","font":"Liberation Sans"},
 "encoding":{"x":{"field":"t","type":"quantitative","scale":{"domain":[41580,51000],"nice":false,"zero":false},"axis":null},
  "y":{"field":"v","type":"quantitative","scale":{"domain":[-73.18,-35.33],"nice":false,"zero":false},"axis":null},
  "text":{"field":"txt"}}},
{"data":{"name":"labA2"},"mark":{"type":"text","fontSize":18,"fontWeight":"bold","color":"black","align":"center","baseline":"middle","font":"Liberation Sans"},
 "encoding":{"x":{"field":"t","type":"quantitative","scale":{"domain":[41580,51000],"nice":false,"zero":false},"axis":null},
  "y":{"field":"v","type":"quantitative","scale":{"domain":[-73.18,-35.33],"nice":false,"zero":false},"axis":null},
  "text":{"field":"txt"}}},
{"data":{"name":"labB"},"mark":{"type":"text","fontSize":18,"fontWeight":"bold","color":"black","align":"center","baseline":"middle"},
 "encoding":{"x":{"field":"t","type":"quantitative","scale":{"domain":[41580,51000],"nice":false,"zero":false},"axis":null},
  "y":{"field":"v","type":"quantitative","scale":{"domain":[-8.545,8.032],"nice":false,"zero":false},"axis":null},"text":{"field":"txt"}}},
{"data":{"name":"labC"},"mark":{"type":"text","fontSize":18,"fontWeight":"bold","color":"black","align":"center","baseline":"middle"},
 "encoding":{"x":{"field":"t","type":"quantitative","scale":{"domain":[41580,51000],"nice":false,"zero":false},"axis":null},
  "y":{"field":"v","type":"quantitative","scale":{"domain":[-0.2868,1.1964],"nice":false,"zero":false},"axis":null},"text":{"field":"txt"}}},
{"data":{"name":"labD"},"mark":{"type":"text","fontSize":18,"fontWeight":"bold","color":"black","align":"center","baseline":"middle"},
 "encoding":{"x":{"field":"t","type":"quantitative","scale":{"domain":[41580,51000],"nice":false,"zero":false},"axis":null},
  "y":{"field":"v","type":"quantitative","scale":{"domain":[301.96,853.1],"nice":false,"zero":false},"axis":null},"text":{"field":"txt"}}},
{"data":{"name":"labE"},"mark":{"type":"text","fontSize":18,"fontWeight":"bold","color":"black","align":"center","baseline":"middle"},
 "encoding":{"x":{"field":"t","type":"quantitative","scale":{"domain":[41580,51000],"nice":false,"zero":false},"axis":null},
  "y":{"field":"v","type":"quantitative","scale":{"domain":[196.87,306.56],"nice":false,"zero":false},"axis":null},"text":{"field":"txt"}}},
{"data":{"values":[{}]},"mark":{"type":"rule","color":"#00008c","strokeWidth":2},
 "encoding":{"x":{"datum":41580,"type":"quantitative","scale":{"domain":[41580,51000],"nice":false,"zero":false},"axis":null},
  "y":{"datum":-35.94,"type":"quantitative","scale":{"domain":[-73.18,-35.33],"nice":false,"zero":false},"axis":null},"y2":{"datum":-39.97}}},
{"data":{"values":[{}]},"mark":{"type":"rule","color":"#00008c","strokeWidth":2},
 "encoding":{"x":{"datum":51000,"type":"quantitative","scale":{"domain":[41580,51000],"nice":false,"zero":false},"axis":null},
  "y":{"datum":-35.94,"type":"quantitative","scale":{"domain":[-73.18,-35.33],"nice":false,"zero":false},"axis":null},"y2":{"datum":-40.22}}},
{"data":{"values":[{}]},"mark":{"type":"rule","color":"#0a640a","strokeWidth":2},
 "encoding":{"x":{"datum":41580,"type":"quantitative","scale":{"domain":[41580,51000],"nice":false,"zero":false},"axis":null},
  "y":{"datum":6,"type":"quantitative","scale":{"domain":[-8.545,8.032],"nice":false,"zero":false},"axis":null},"y2":{"datum":1}}},
{"data":{"values":[{}]},"mark":{"type":"rule","color":"#0a640a","strokeWidth":2},
 "encoding":{"x":{"datum":51000,"type":"quantitative","scale":{"domain":[41580,51000],"nice":false,"zero":false},"axis":null},
  "y":{"datum":5.893,"type":"quantitative","scale":{"domain":[-8.545,8.032],"nice":false,"zero":false},"axis":null},"y2":{"datum":1.019}}},
{"data":{"values":[{}]},"mark":{"type":"rule","color":"#555555","strokeWidth":2},
 "encoding":{"x":{"datum":51000,"type":"quantitative","scale":{"domain":[41580,51000],"nice":false,"zero":false},"axis":null},
  "y":{"datum":0.5696,"type":"quantitative","scale":{"domain":[-0.2868,1.1964],"nice":false,"zero":false},"axis":null},"y2":{"datum":0.242}}},
{"data":{"values":[{}]},"mark":{"type":"rule","color":"black","strokeWidth":2},
 "encoding":{"x":{"datum":41580,"type":"quantitative","scale":{"domain":[41580,51000],"nice":false,"zero":false},"axis":null},
  "y":{"datum":619.3,"type":"quantitative","scale":{"domain":[301.96,853.1],"nice":false,"zero":false},"axis":null},"y2":{"datum":309.1}}},
{"data":{"values":[{}]},"mark":{"type":"rule","color":"black","strokeWidth":2},
 "encoding":{"x":{"datum":51000,"type":"quantitative","scale":{"domain":[41580,51000],"nice":false,"zero":false},"axis":null},
  "y":{"datum":235.97,"type":"quantitative","scale":{"domain":[196.87,306.56],"nice":false,"zero":false},"axis":null},"y2":{"datum":198.28}}}
]
}
